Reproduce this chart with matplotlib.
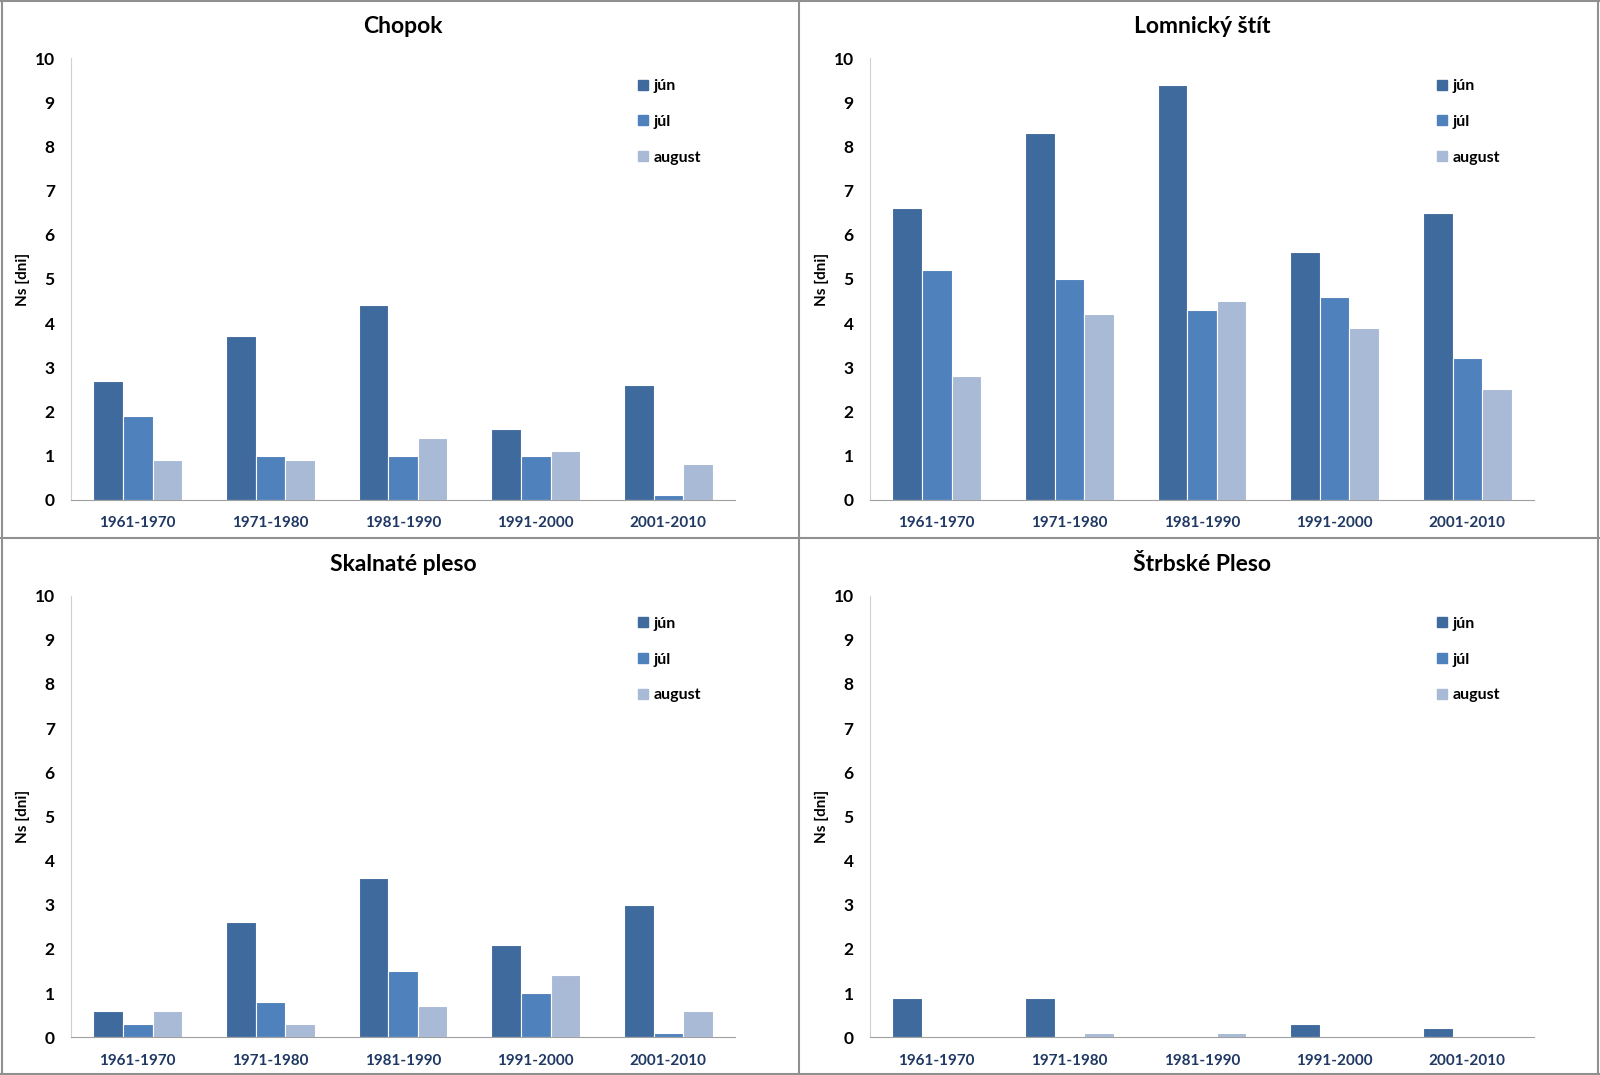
import matplotlib
matplotlib.use("Agg")
import matplotlib.pyplot as plt
import numpy as np
from matplotlib.lines import Line2D

plt.rcParams['font.family'] = ['Lato', 'DejaVu Sans']

periods = ["1961-1970", "1971-1980", "1981-1990", "1991-2000", "2001-2010"]
months = ["jún", "júl", "august"]
colors = ["#3F6A9E", "#4F81BD", "#A9BAD6"]

stations = ["Chopok", "Lomnický štít", "Skalnaté pleso", "Štrbské Pleso"]
chopok_jun = [2.7, 3.7, 4.4, 1.6, 2.6]
chopok_jul = [1.9, 1.0, 1.0, 1.0, 0.1]
chopok_aug = [0.9, 0.9, 1.4, 1.1, 0.8]
lomnicky_jun = [6.6, 8.3, 9.4, 5.6, 6.5]
lomnicky_jul = [5.2, 5.0, 4.3, 4.6, 3.2]
lomnicky_aug = [2.8, 4.2, 4.5, 3.9, 2.5]
skalnate_jun = [0.6, 2.6, 3.6, 2.1, 3.0]
skalnate_jul = [0.3, 0.8, 1.5, 1.0, 0.1]
skalnate_aug = [0.6, 0.3, 0.7, 1.4, 0.6]
strbske_jun = [0.9, 0.9, 0.0, 0.3, 0.2]
strbske_jul = [0.0, 0.0, 0.0, 0.0, 0.0]
strbske_aug = [0.0, 0.1, 0.1, 0.0, 0.0]

data = [
    [chopok_jun, chopok_jul, chopok_aug],
    [lomnicky_jun, lomnicky_jul, lomnicky_aug],
    [skalnate_jun, skalnate_jul, skalnate_aug],
    [strbske_jun, strbske_jul, strbske_aug],
]

fig = plt.figure(figsize=(16, 10.75), dpi=100)
fig.patch.set_facecolor("white")

W, H = 1568.0, 1054.0
lefts = [70 / W, 853 / W]
width = 650 / W
bottoms = [1 - 490 / H, 1 - 1017 / H]
height = 433 / H

x = np.arange(len(periods))
bw = 0.223

for i, (name, series) in enumerate(zip(stations, data)):
    r, c = divmod(i, 2)
    ax = fig.add_axes([lefts[c], bottoms[r], width, height])
    for k, (vals, col, lab) in enumerate(zip(series, colors, months)):
        ax.bar(x + (k - 1) * bw, vals, width=bw, color=col, edgecolor="white",
               linewidth=0.8, label=lab, zorder=2)
    ax.set_xlim(-0.5, len(periods) - 0.5)
    ax.set_ylim(0, 10)
    ax.set_yticks(range(0, 11))
    ax.set_yticklabels([str(v) for v in range(0, 11)], fontsize=12.5,
                       fontweight="bold", color="black")
    ax.set_xticks(x)
    ax.set_xticklabels(periods, fontsize=11, fontweight="bold", color="#1F3864")
    ax.tick_params(axis="both", length=0, pad=12)
    ax.tick_params(axis="x", pad=12)
    for s in ["top", "right"]:
        ax.spines[s].set_visible(False)
    ax.spines["left"].set_color("#D0D0D0")
    ax.spines["bottom"].set_color("#A0A0A0")
    ax.set_title(name, fontsize=16.5, fontweight="bold", pad=18)
    ax.set_ylabel("Ns [dni]", fontsize=11, fontweight="bold", labelpad=3)
    handles = [Line2D([], [], marker="s", linestyle="none", markersize=7,
                      markerfacecolor=cl, markeredgecolor=cl) for cl in colors]
    leg = ax.legend(handles, months, loc="upper left",
                    bbox_to_anchor=(0.83, 0.985), frameon=False,
                    prop={"weight": "bold", "size": 11.5}, labelspacing=1.35,
                    handlelength=0.8, handletextpad=0.3)

# panel dividers and outer border
border = "#909090"
fig.add_artist(Line2D([783 / W, 783 / W], [0, 1], color=border, lw=1.5,
                      transform=fig.transFigure))
fig.add_artist(Line2D([0, 1], [1 - 527 / H, 1 - 527 / H], color=border, lw=1.5,
                      transform=fig.transFigure))
for xs, ys in [([0, 1], [0.001, 0.001]), ([0, 1], [0.999, 0.999]),
               ([0.001, 0.001], [0, 1]), ([0.999, 0.999], [0, 1])]:
    fig.add_artist(Line2D(xs, ys, color=border, lw=1.5, transform=fig.transFigure))

fig.savefig("out.png", dpi=100, facecolor="white")
